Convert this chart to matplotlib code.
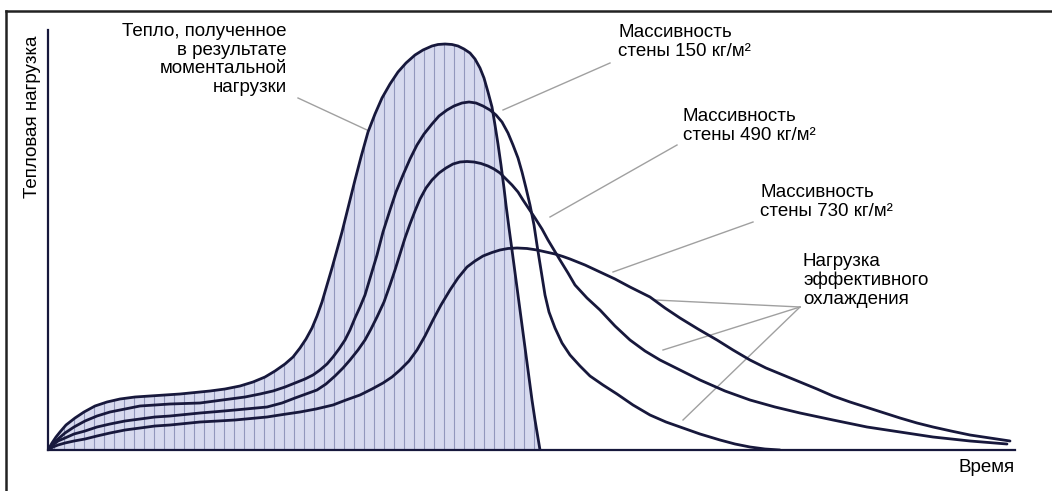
import numpy as np
import matplotlib
matplotlib.use("Agg")
from matplotlib import pyplot as plt
from matplotlib.lines import Line2D

plt.rcParams['font.family'] = ['Liberation Sans', 'DejaVu Sans']

# время (усл. ед.) и тепловая нагрузка (усл. ед.)
t_instant = [0, 4, 8, 12, 18, 27, 36, 47, 59, 72, 87, 102, 117, 132, 147, 162, 177, 192, 205,
             217, 227, 237, 245, 252, 258, 264, 269, 274, 279, 284, 289, 294, 300, 307, 313,
             320, 327, 334, 342, 350, 358, 367, 375, 384, 390, 397, 404, 410, 416, 422, 427,
             432, 436, 440, 444, 447, 450, 453, 456, 458, 461, 464, 468, 472, 476, 480, 484,
             487, 490, 492]
q_instant = [0, 7, 13, 18, 25, 32, 38, 44, 48, 51, 53, 54, 55, 56, 57.5, 59, 61, 64, 68,
             73, 79, 86, 93, 102, 111, 122, 134, 148, 165, 182, 200, 218, 242, 270, 293,
             318, 336, 352, 366, 378, 387, 395, 400, 404, 405.5, 406, 405.5, 404, 401, 397, 391,
             382, 372, 358, 343, 325, 306, 285, 262, 245, 222, 200, 170, 140, 110, 80, 50,
             30, 12, 0]

t_150 = [0, 5, 10, 17, 26, 37, 49, 62, 77, 92, 107, 122, 137, 152, 167, 182, 197, 212, 225,
         237, 247, 257, 265, 272, 279, 285, 291, 297, 302, 307, 312, 317, 323, 329, 335, 342,
         348, 355, 362, 369, 376, 384, 391, 399, 406, 414, 421, 428, 435, 442, 448, 454, 460,
         465, 470, 474, 478, 482, 486, 489, 493, 497, 501, 507, 514, 522, 532, 542, 555, 569,
         585, 602, 618, 635, 652, 672, 687, 702, 717, 732]
q_150 = [0, 6, 11, 17, 23, 29, 34, 38, 41, 44, 45, 46, 46.5, 47, 49, 51, 53, 56, 59,
         63, 67, 71, 75, 80, 86, 93, 101, 110, 120, 132, 143, 155, 175, 195, 218, 240,
         258, 275, 291, 305, 316, 326, 334, 340, 344, 347, 348, 347, 344, 340, 335, 328, 317,
         305, 292, 278, 262, 245, 225, 205, 180, 155, 138, 122, 107, 95, 84, 74, 65, 56,
         45, 35, 28, 22, 16, 10, 6, 3, 1, 0]

t_490 = [0, 5, 10, 17, 26, 37, 49, 62, 77, 92, 107, 122, 137, 152, 170, 187, 203, 219, 234,
         247, 258, 269, 278, 287, 295, 302, 310, 317, 323, 329, 336, 342, 347, 352, 357, 362,
         367, 372, 378, 384, 391, 398, 405, 412, 419, 426, 433, 440, 446, 452, 458, 464, 470,
         475, 481, 487, 494, 500, 506, 512, 520, 527, 539, 552, 567, 582, 597, 612, 632, 652,
         677, 702, 727, 752, 785, 819, 852, 885, 922, 959]
q_490 = [0, 5, 9, 12, 16, 19, 23, 26, 29, 31, 33, 34, 35.5, 37, 38.5, 40, 41.5, 43, 47,
         52, 56, 60, 66, 74, 82, 90, 100, 110, 121, 133, 148, 165, 180, 196, 212, 226,
         239, 251, 262, 270, 277, 282, 286, 288, 288.5, 288, 286.5, 284, 281, 277, 271, 265, 258,
         250, 241, 232, 221, 210, 200, 190, 177, 165, 152, 140, 124, 110, 99, 90, 80, 70,
         59, 50, 43, 37, 30, 23, 18, 13, 9, 6]

t_730 = [0, 5, 10, 17, 26, 37, 49, 62, 77, 92, 107, 122, 137, 152, 170, 187, 203, 219, 235,
         252, 268, 285, 298, 312, 324, 335, 344, 352, 361, 369, 377, 385, 393, 402, 410, 419,
         427, 435, 444, 452, 460, 469, 479, 489, 498, 507, 515, 522, 537, 552, 567, 582, 592,
         602, 617, 632, 650, 669, 685, 702, 718, 735, 752, 769, 785, 802, 827, 852, 869, 885,
         903, 922, 942, 962]
q_730 = [0, 3, 5, 7, 9, 11, 14, 17, 20, 22, 24, 25, 26.5, 28, 29, 30, 31.5, 33, 35.5,
         38, 41, 45, 50, 55, 61, 67, 73, 80, 89, 100, 114, 130, 145, 160, 172, 183,
         189, 194, 197.5, 200, 201.5, 202, 201.5, 200, 198, 196, 193.5, 191, 185, 178, 171, 163, 158,
         153, 142, 132, 121, 110, 100, 90, 82, 75, 68, 61, 54, 48, 40, 32, 27, 23,
         19, 15, 12, 9]

t_max = 967
q_max = 420

line_col = '#17183c'
lead_col = '#a0a0a0'

fig = plt.figure(figsize=(10.52, 4.91), dpi=100)
ax = fig.add_axes([48 / 1052, 41 / 491, 967 / 1052, 420 / 491])
ax.set_xlim(0, t_max)
ax.set_ylim(0, q_max)
ax.axis('off')

# заштрихованная область - тепло от моментальной нагрузки
poly = ax.fill_between(t_instant, 0, q_instant, color='#d7daef', lw=0, zorder=1)
hatch = ax.vlines(np.arange(6, 492, 10), 0, q_max, colors='#9297bd', lw=0.8, zorder=2)
hatch.set_clip_path(poly.get_paths()[0], ax.transData)

for t, q in [(t_instant, q_instant), (t_150, q_150), (t_490, q_490), (t_730, q_730)]:
    ax.plot(t, q, color=line_col, lw=2.0, solid_joinstyle='round', solid_capstyle='round', zorder=4)

# оси
ax.plot([0, 0], [0, q_max], color=line_col, lw=1.6, clip_on=False, zorder=5)
ax.plot([0, t_max], [0, 0], color=line_col, lw=1.6, clip_on=False, zorder=5)

fs = 13.5
ls = 1.12
ax.text(-15, 333, 'Тепловая нагрузка', rotation=90, ha='center', va='center', fontsize=fs)
ax.text(t_max, -18, 'Время', ha='right', va='center', fontsize=fs)

ax.text(239, 427, 'Тепло, полученное\nв результате\nмоментальной\nнагрузки', ha='right', va='top',
        fontsize=fs, linespacing=ls)
ax.text(570, 426, 'Массивность\nстены 150 кг/м²', ha='left', va='top', fontsize=fs, linespacing=ls)
ax.text(635, 342, 'Массивность\nстены 490 кг/м²', ha='left', va='top', fontsize=fs, linespacing=ls)
ax.text(712, 266, 'Массивность\nстены 730 кг/м²', ha='left', va='top', fontsize=fs, linespacing=ls)
ax.text(755, 197, 'Нагрузка\nэффективного\nохлаждения', ha='left', va='top', fontsize=fs, linespacing=ls)

# выноски
leaders = [((250, 352), (319, 320)),
           ((562, 387), (455, 340)),
           ((629, 305), (502, 233)),
           ((705, 228), (565, 178)),
           ((752, 143), (607, 150)),
           ((752, 143), (615, 100)),
           ((752, 143), (635, 30))]
for (x0, y0), (x1, y1) in leaders:
    ax.plot([x0, x1], [y0, y1], color=lead_col, lw=1.0, zorder=3)

# рамка
fig.add_artist(Line2D([6 / 1052, 6 / 1052], [0, 1 - 11 / 491], color='#222', lw=1.8))
fig.add_artist(Line2D([6 / 1052, 1], [1 - 11 / 491, 1 - 11 / 491], color='#222', lw=1.8))

fig.savefig('out.png', dpi=100)
